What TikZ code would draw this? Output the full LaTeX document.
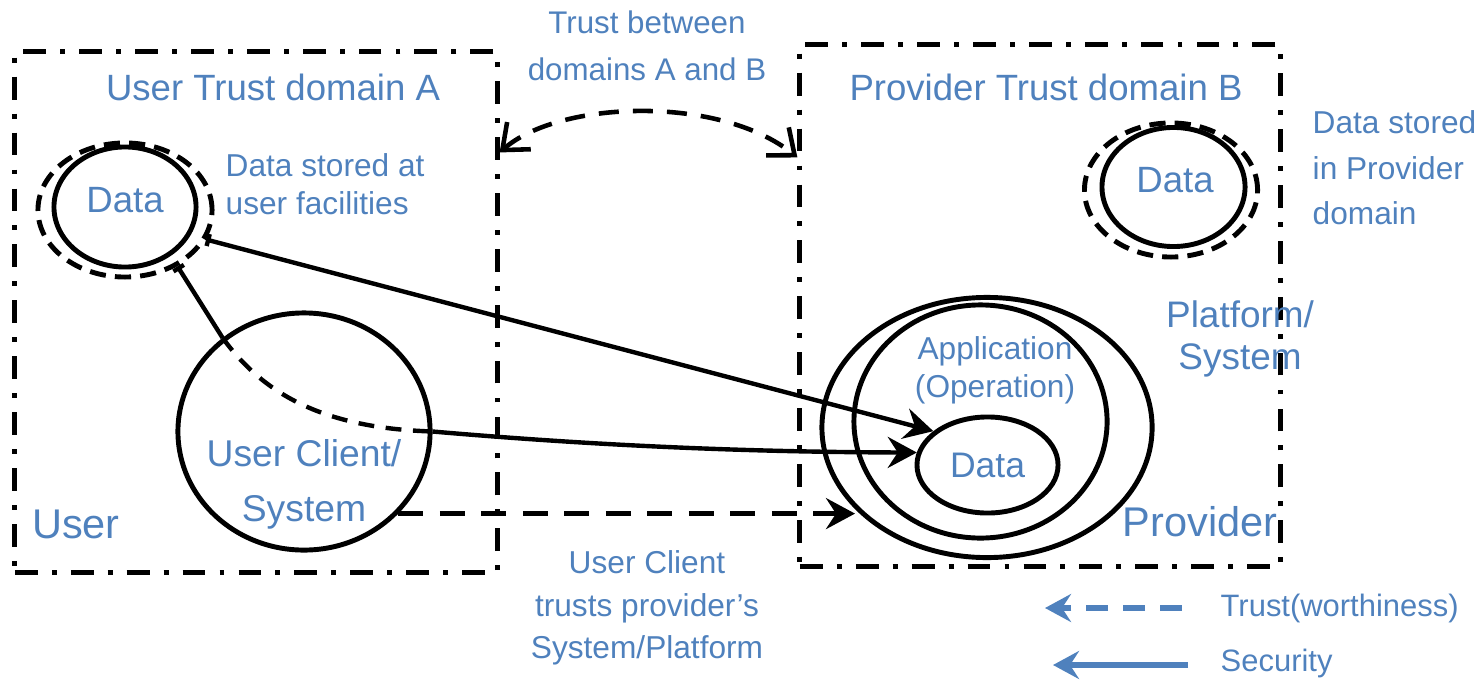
\documentclass[tikz,border=0pt]{standalone}
\usepackage{fontspec}
\setmainfont{Liberation Sans}
\usetikzlibrary{arrows.meta,shapes.geometric}

\definecolor{txtblue}{RGB}{79,129,189}

\tikzset{
  dbox/.style={draw,line width=1.4pt,dash pattern=on 6.5pt off 4pt on 1.4pt off 4pt,inner sep=0pt},
  ring/.style={ellipse,draw,line width=1.4pt,inner sep=0pt},
  dring/.style={ring,dash pattern=on 4.6pt off 2.6pt},
  sec/.style={line width=1.25pt,-{Stealth[length=2.9mm,width=3.1mm,inset=1mm]}},
  trust/.style={line width=1.3pt,dash pattern=on 7pt off 4.8pt,-{Stealth[length=2.9mm,width=3.1mm,inset=1mm]}},
  lbl/.style={text=txtblue,align=center,inner sep=0pt},
  fs/.style 2 args={font=\fontsize{#1}{#2}\selectfont},
}

\begin{document}
\begin{tikzpicture}[x=0.01cm,y=-0.01cm]
  \useasboundingbox (0,0) rectangle (1480,679);
  % trust domains
  \node[dbox,minimum width=4.82cm,minimum height=5.2cm] (boxA) at (256,312) {};
  \node[dbox,minimum width=4.8cm,minimum height=5.21cm] (boxB) at (1040,305.5) {};
  \node[lbl,fs={10.4}{12}] (ttlA) at (273,87) {User Trust domain A};
  \node[lbl,fs={10.4}{12}] (ttlB) at (1046,87) {Provider Trust domain B};
  % data at user side
  \node[dring,minimum width=1.74cm,minimum height=1.34cm] (dataAring) at (125,210) {};
  \node[ring,minimum width=1.42cm,minimum height=1.2cm] (dataA) at (125,207) {};
  \node[lbl,fs={10.4}{12}] (dataAtxt) at (125,200) {Data};
  \node[lbl,fs={9}{10.8},anchor=west,align=left] (noteA) at (225,184) {Data stored at\\user facilities};
  % user client
  \node[ring,minimum width=2.52cm,minimum height=2.37cm] (client) at (304,431.5) {};
  \node[lbl,fs={10.6}{15.6}] (clientTxt) at (304,484) {User Client/\\System};
  \node[lbl,fs={11.8}{14}] (lblUser) at (76,524) {User};
  % provider side
  \node[dring,minimum width=1.73cm,minimum height=1.34cm] (dataBring) at (1171,190) {};
  \node[ring,minimum width=1.43cm,minimum height=1.19cm] (dataB) at (1173.5,187) {};
  \node[lbl,fs={10.4}{12}] (dataBtxt) at (1175,180) {Data};
  \node[lbl,fs={9}{12.9},anchor=west,align=left] (noteB) at (1312,168) {Data stored\\in Provider\\domain};
  \node[ring,minimum width=3.3cm,minimum height=2.6cm] (platform) at (987,427.5) {};
  \node[ring,minimum width=2.53cm,minimum height=2.33cm] (app) at (980.5,421.5) {};
  \node[ring,minimum width=1.41cm,minimum height=0.96cm,lbl,text=txtblue,fs={10.1}{12}] (dataP) at (987.5,465) {Data};
  \node[lbl,fs={9}{10.8}] (appTxt) at (995,370) {Application\\(Operation)};
  \node[lbl,fs={10.5}{12}] (platTxt) at (1240,339) {Platform/\\System};
  \node[lbl,fs={11.8}{14}] (lblProv) at (1200,522) {Provider};
  % trust between domains
  \node[lbl,fs={8.9}{13.4}] (noteAB) at (647,46) {Trust between\\domains A and B};
  \draw[line width=1.3pt,dash pattern=on 5.7pt off 4pt,
        {Straight Barb[length=2.2mm,width=3.6mm]}-{Straight Barb[length=2.2mm,width=3.6mm]}]
    ([yshift=-1.03cm]boxA.north east) .. controls (560,100) and (720,95) .. ([yshift=-1.15cm]boxB.north west);
  % security connectors
  \draw[sec,{Bar[width=3.5pt]}-{Stealth[length=2.9mm,width=3.1mm,inset=1mm]}] (dataAring.-20) -- (dataP.148);
  \draw[line width=1.25pt,{Bar[width=3.5pt]}-] (dataAring.-47) -- (client.131);
  \draw[line width=1.25pt,dash pattern=on 4.5pt off 3.3pt] (client.131) .. controls (262,392) and (320,428) .. (client.east);
  \draw[sec] (client.east) .. controls (600,446) and (750,452) .. (dataP.170);
  % client trusts platform
  \coordinate (trustTip) at (855,513);
  \draw[trust] (client.-41) -- (client.-41 -| trustTip);
  \node[lbl,fs={9}{12}] (noteUC) at (647,608) {User Client\\trusts provider's\\System/Platform};
  % legend
  \node[lbl,fs={8.8}{10},anchor=west] (lgTrust) at (1220,608) {Trust(worthiness)};
  \node[lbl,fs={8.8}{10},anchor=west] (lgSec) at (1220,663) {Security};
  \coordinate (lgT0) at (1182,608);
  \coordinate (lgT1) at (1045,608);
  \coordinate (lgS0) at (1188,665);
  \coordinate (lgS1) at (1053,665);
  \draw[txtblue,line width=1.7pt,dash pattern=on 6.2pt off 4.3pt,-{Stealth[length=2.6mm,width=2.8mm,inset=0.9mm]}] (lgT0) -- (lgT1);
  \draw[txtblue,line width=1.7pt,-{Stealth[length=2.6mm,width=2.8mm,inset=0.9mm]}] (lgS0) -- (lgS1);
\end{tikzpicture}
\end{document}
